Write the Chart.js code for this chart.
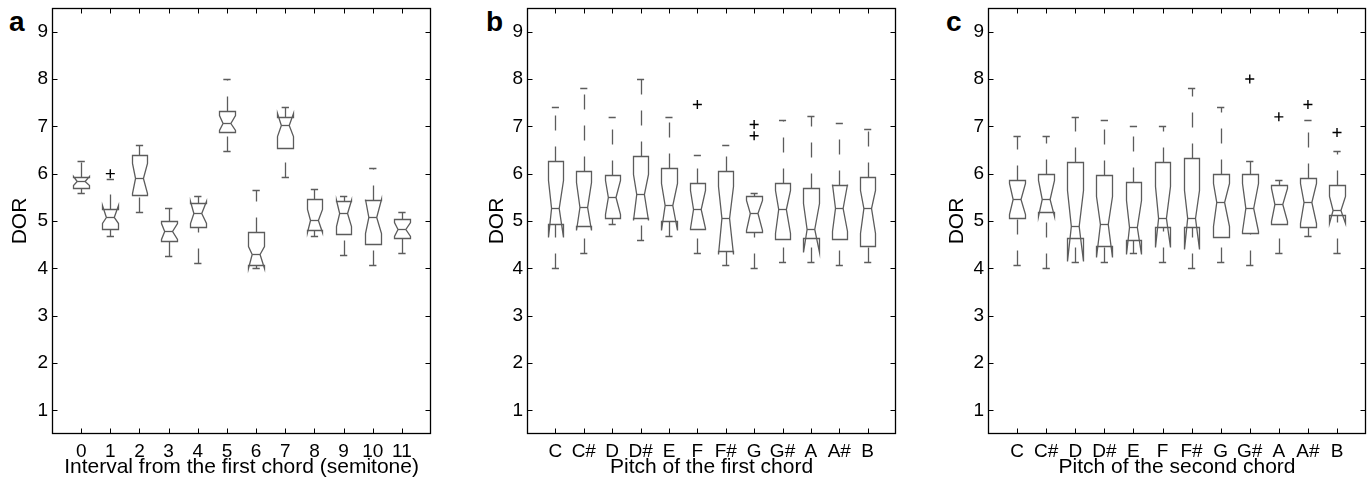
<!DOCTYPE html>
<html>
<head>
<meta charset="utf-8">
<script src="https://cdn.jsdelivr.net/npm/chart.js@4.4.1/dist/chart.umd.min.js"></script>
<style>
html,body{margin:0;padding:0;background:#fff;width:1372px;height:482px;overflow:hidden;position:relative;}
canvas{position:absolute;top:0;}
.lbl{position:absolute;font-family:"Liberation Sans",Arial,sans-serif;font-weight:bold;font-size:28px;line-height:28px;color:#000;}
</style>
</head>
<body>
<div class="lbl" style="left:9px;top:8px">a</div>
<div class="lbl" style="left:486px;top:8px">b</div>
<div class="lbl" style="left:946px;top:8px">c</div>
<canvas id="ca" width="437" height="482" style="left:0px"></canvas>
<canvas id="cb" width="427" height="482" style="left:475px"></canvas>
<canvas id="cc" width="436" height="482" style="left:936px"></canvas>
<script>
// ---------- categories / tick labels ----------
const intervalLabels = ['0','1','2','3','4','5','6','7','8','9','10','11'];
const pitchLabels = ['C','C#','D','D#','E','F','F#','G','G#','A','A#','B'];
const yTickValues = [1,2,3,4,5,6,7,8,9];

// ---------- panel a: interval from the first chord ----------
const aLower    = [5.60, 4.68, 5.20, 4.27, 4.12, 6.47, 4.00, 5.93, 4.68, 4.28, 4.07, 4.33];
const aQ1       = [5.70, 4.83, 5.54, 4.57, 4.88, 6.87, 4.08, 6.54, 4.82, 4.73, 4.52, 4.64];
const aNotchLo  = [5.76, 4.95, 5.59, 4.61, 4.96, 6.93, 4.00, 6.80, 4.76, 4.89, 4.75, 4.69];
const aMedian   = [5.84, 5.09, 5.90, 4.79, 5.17, 7.08, 4.31, 7.03, 5.03, 5.17, 5.08, 4.83];
const aNotchHi  = [5.96, 5.33, 6.23, 4.95, 5.42, 7.25, 4.47, 7.28, 5.26, 5.45, 5.47, 4.97];
const aQ3       = [5.93, 5.26, 6.40, 5.00, 5.38, 7.33, 4.76, 7.20, 5.47, 5.42, 5.45, 5.04];
const aUpper    = [6.26, 5.88, 6.60, 5.27, 5.53, 8.00, 5.66, 7.41, 5.68, 5.52, 6.12, 5.19];
const aOutliers = [[], [6.00], [], [], [], [], [], [], [], [], [], []];

// ---------- panel b: pitch of the first chord ----------
const bLower    = [4.00, 4.32, 4.93, 4.60, 4.68, 4.33, 4.07, 4.00, 4.13, 4.13, 4.07, 4.13];
const bQ1       = [4.93, 4.89, 5.07, 5.07, 5.00, 4.83, 4.37, 4.77, 4.63, 4.64, 4.61, 4.47];
const bNotchLo  = [4.67, 4.82, 5.14, 5.02, 4.82, 4.86, 4.30, 4.82, 4.75, 4.34, 4.78, 4.75];
const bMedian   = [5.28, 5.30, 5.51, 5.57, 5.33, 5.26, 5.07, 5.17, 5.26, 4.83, 5.28, 5.28];
const bNotchHi  = [5.87, 5.83, 5.87, 6.00, 5.80, 5.66, 5.73, 5.45, 5.66, 5.38, 5.79, 5.66];
const bQ3       = [6.26, 6.06, 5.97, 6.37, 6.13, 5.80, 6.06, 5.52, 5.80, 5.70, 5.77, 5.93];
const bUpper    = [7.40, 7.80, 7.20, 8.00, 7.20, 6.40, 6.60, 5.59, 7.13, 7.21, 7.07, 6.94];
const bOutliers = [[], [], [], [], [], [7.46], [], [7.04, 6.80], [], [], [], []];

// ---------- panel c: pitch of the second chord ----------
const cLower    = [4.07, 4.00, 4.13, 4.13, 4.33, 4.13, 4.00, 4.13, 4.07, 4.33, 4.68, 4.33];
const cQ1       = [5.06, 5.18, 4.64, 4.47, 4.59, 4.88, 4.88, 4.67, 4.75, 4.93, 4.87, 5.12];
const cNotchLo  = [5.14, 5.10, 4.15, 4.25, 4.31, 4.45, 4.40, 4.89, 4.78, 5.00, 4.96, 4.96];
const cMedian   = [5.47, 5.47, 4.90, 4.93, 4.87, 5.07, 5.07, 5.40, 5.28, 5.35, 5.40, 5.24];
const cNotchHi  = [5.80, 5.87, 5.66, 5.52, 5.45, 5.73, 5.66, 5.80, 5.80, 5.70, 5.80, 5.52];
const cQ3       = [5.87, 6.00, 6.24, 5.97, 5.83, 6.24, 6.33, 6.00, 6.00, 5.77, 5.90, 5.77];
const cUpper    = [6.80, 6.80, 7.20, 7.13, 7.01, 7.00, 7.80, 7.41, 6.26, 5.87, 7.14, 6.47];
const cOutliers = [[], [], [], [], [], [], [], [], [8.00], [7.20], [7.46], [6.87]];

const FONT = '"Liberation Sans", Arial, Helvetica, sans-serif';
const BOX_COLOR = '#5c5c5c';

const notchedBoxPlugin = {
  id: 'notchedBox',
  beforeDatasetsDraw(chart, args, opts) {
    const {ctx, chartArea: ca, scales: {x, y}} = chart;
    const s = opts.stats;
    const sx = v => Math.round(v) + 0.5;
    const sy = v => Math.round(y.getPixelForValue(v)) + 0.5;
    ctx.save();
    ctx.beginPath();
    ctx.rect(ca.left, ca.top, ca.right - ca.left, ca.bottom - ca.top);
    ctx.clip();
    ctx.strokeStyle = BOX_COLOR;
    ctx.lineWidth = 1.3;
    ctx.lineJoin = 'miter';
    for (let i = 0; i < s.median.length; i++) {
      const pos = i + 1;
      const xc = sx(x.getPixelForValue(pos));
      const xl = sx(x.getPixelForValue(pos - opts.boxWidth / 2));
      const xr = sx(x.getPixelForValue(pos + opts.boxWidth / 2));
      const xil = x.getPixelForValue(pos - opts.boxWidth / 4);
      const xir = x.getPixelForValue(pos + opts.boxWidth / 4);
      const cl = x.getPixelForValue(pos - opts.capWidth / 2);
      const cr = x.getPixelForValue(pos + opts.capWidth / 2);
      // whiskers (dashed, drawn from the lower value upward)
      ctx.setLineDash(opts.dash);
      ctx.beginPath(); ctx.moveTo(xc, sy(s.lower[i])); ctx.lineTo(xc, sy(s.q1[i])); ctx.stroke();
      ctx.beginPath(); ctx.moveTo(xc, sy(s.q3[i])); ctx.lineTo(xc, sy(s.upper[i])); ctx.stroke();
      ctx.setLineDash([]);
      // caps
      ctx.beginPath();
      ctx.moveTo(cl, sy(s.lower[i])); ctx.lineTo(cr, sy(s.lower[i]));
      ctx.moveTo(cl, sy(s.upper[i])); ctx.lineTo(cr, sy(s.upper[i]));
      ctx.stroke();
      // notched box
      ctx.beginPath();
      ctx.moveTo(xl, sy(s.q1[i]));
      ctx.lineTo(xl, sy(s.notchLo[i]));
      ctx.lineTo(xil, sy(s.median[i]));
      ctx.lineTo(xl, sy(s.notchHi[i]));
      ctx.lineTo(xl, sy(s.q3[i]));
      ctx.lineTo(xr, sy(s.q3[i]));
      ctx.lineTo(xr, sy(s.notchHi[i]));
      ctx.lineTo(xir, sy(s.median[i]));
      ctx.lineTo(xr, sy(s.notchLo[i]));
      ctx.lineTo(xr, sy(s.q1[i]));
      ctx.closePath();
      ctx.stroke();
      // median
      ctx.beginPath();
      ctx.moveTo(xil, sy(s.median[i])); ctx.lineTo(xir, sy(s.median[i]));
      ctx.stroke();
    }
    ctx.restore();
  },
  afterDraw(chart, args, opts) {
    const {ctx, chartArea: ca, scales: {x, y}} = chart;
    const L = Math.round(ca.left) + 0.5, R = Math.round(ca.right) - 0.5;
    const T = Math.round(ca.top) + 0.5, B = Math.round(ca.bottom) - 0.5;
    ctx.save();
    ctx.strokeStyle = '#000';
    ctx.lineWidth = 1;
    ctx.beginPath();
    x.ticks.forEach(t => {
      const px = Math.round(x.getPixelForValue(t.value)) + 0.5;
      ctx.moveTo(px, B); ctx.lineTo(px, B - opts.tickLen);
      ctx.moveTo(px, T); ctx.lineTo(px, T + opts.tickLen);
    });
    y.ticks.forEach(t => {
      const py = Math.round(y.getPixelForValue(t.value)) + 0.5;
      ctx.moveTo(L, py); ctx.lineTo(L + opts.tickLen, py);
      ctx.moveTo(R, py); ctx.lineTo(R - opts.tickLen, py);
    });
    ctx.stroke();
    ctx.lineWidth = 1.3;
    ctx.strokeRect(L, T, R - L, B - T);
    ctx.restore();
  }
};

function makePanel(id, labels, stats, outliers, xTitle, yTitlePad) {
  const pts = [];
  outliers.forEach((list, i) => list.forEach(v => pts.push({x: i + 1, y: v})));
  return new Chart(document.getElementById(id), {
    type: 'scatter',
    data: {
      datasets: [{
        data: pts,
        pointStyle: 'cross',
        pointRadius: 4.5,
        pointBorderColor: '#000',
        pointBorderWidth: 1.4,
        pointBackgroundColor: '#000'
      }]
    },
    plugins: [notchedBoxPlugin],
    options: {
      responsive: false,
      animation: false,
      events: [],
      layout: {padding: {left: 0, right: 3, top: 8, bottom: 0}},
      plugins: {
        legend: {display: false},
        tooltip: {enabled: false},
        notchedBox: {stats: stats, boxWidth: 0.54, capWidth: 0.25, dash: [15, 16], tickLen: 5}
      },
      scales: {
        x: {
          type: 'linear', min: 0, max: 13,
          afterBuildTicks: sc => { sc.ticks = labels.map((_, i) => ({value: i + 1})); },
          afterFit: sc => { sc.height = 48; sc.paddingLeft = 0; sc.paddingRight = 0; },
          grid: {display: false, drawTicks: false},
          border: {display: false},
          ticks: {
            autoSkip: false, maxRotation: 0, minRotation: 0, padding: 6, color: '#000',
            font: {family: FONT, size: 19},
            callback: v => labels[Math.round(v) - 1]
          },
          title: {display: true, text: xTitle, color: '#000', font: {family: FONT, size: 21}, padding: {top: 0, bottom: 2}}
        },
        y: {
          type: 'linear', min: 0.5, max: 9.5,
          afterBuildTicks: sc => { sc.ticks = yTickValues.map(v => ({value: v})); },
          afterFit: sc => { sc.width = 52; sc.paddingTop = 0; sc.paddingBottom = 0; },
          grid: {display: false, drawTicks: false},
          border: {display: false},
          ticks: {padding: 4, color: '#000', font: {family: FONT, size: 19}},
          title: {display: true, text: 'DOR', color: '#000', font: {family: FONT, size: 21}, padding: {top: yTitlePad, bottom: 0}}
        }
      }
    }
  });
}

makePanel('ca', intervalLabels,
  {lower: aLower, q1: aQ1, notchLo: aNotchLo, median: aMedian, notchHi: aNotchHi, q3: aQ3, upper: aUpper},
  aOutliers, 'Interval from the first chord (semitone)', 7.4);
makePanel('cb', pitchLabels,
  {lower: bLower, q1: bQ1, notchLo: bNotchLo, median: bMedian, notchHi: bNotchHi, q3: bQ3, upper: bUpper},
  bOutliers, 'Pitch of the first chord', 9.4);
makePanel('cc', pitchLabels,
  {lower: cLower, q1: cQ1, notchLo: cNotchLo, median: cMedian, notchHi: cNotchHi, q3: cQ3, upper: cUpper},
  cOutliers, 'Pitch of the second chord', 8.4);
</script>
</body>
</html>
